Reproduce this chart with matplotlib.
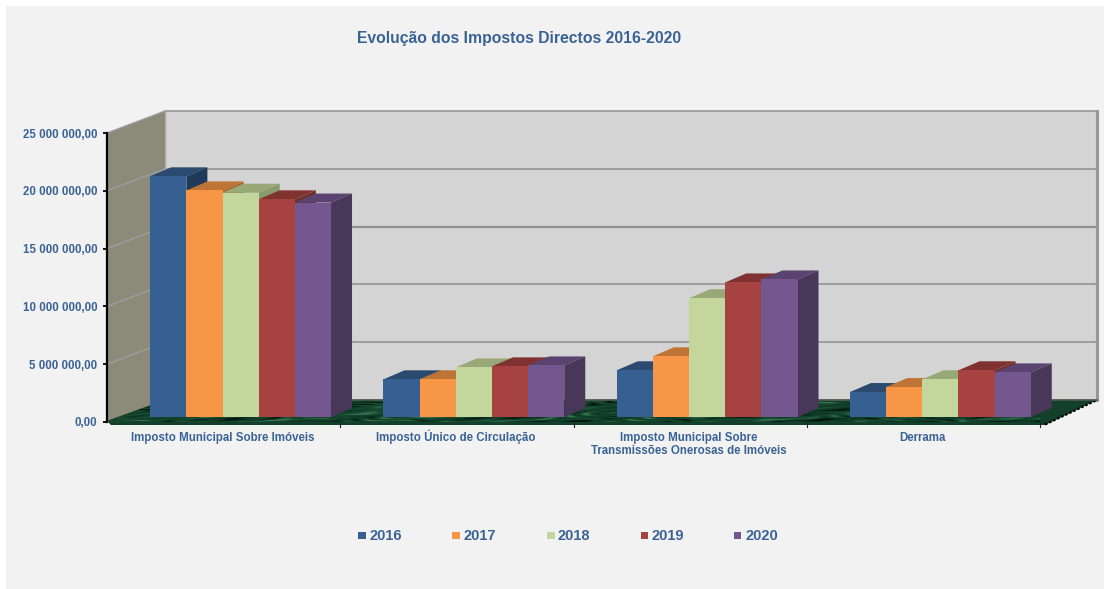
"""Evolucao dos Impostos Directos, fake 3D column chart."""

import matplotlib
import matplotlib.pyplot as plt
import numpy as np
from matplotlib.colors import LinearSegmentedColormap
from matplotlib.patches import Polygon
from matplotlib.transforms import Affine2D, IdentityTransform

# no GUI backend
matplotlib.use('Agg')

categories = ["Imposto Municipal Sobre Imóveis",
              "Imposto Único de Circulação",
              "Imposto Municipal Sobre\nTransmissões Onerosas de Imóveis",
              "Derrama"]
years = ["2016", "2017", "2018", "2019", "2020"]

v2016 = [20820000, 3260000, 4040000, 2160000]
v2017 = [19600000, 3260000, 5250000, 2590000]
v2018 = [19400000, 4290000, 10270000, 3260000]
v2019 = [18830000, 4380000, 11640000, 4040000]
v2020 = [18550000, 4460000, 11900000, 3860000]
series = [v2016, v2017, v2018, v2019, v2020]

y_ticks = [0, 5000000, 10000000, 15000000, 20000000, 25000000]

front_colors = ['#366092', '#f79646', '#c3d69b', '#a64340', '#74578f']
top_colors = ['#2a4a70', '#bd7435', '#98a877', '#7f322f', '#5a4370']
side_colors = ['#203a5a', '#a86a30', '#8a9a6a', '#70302d', '#483758']
TEXT_BLUE = '#3a6395'

W, H = 1104, 589
DEPTH = (58, 22)      # floor/wall depth in pixels
BAR_DEPTH = (21, 9)
BAR_SHIFT = (17, 5)   # bars stand a bit in from the front edge
BAR_W = 0.155


def to_px(x, y):
    return ax.transData.transform((x, y))


def face(points, color, zorder, edge='none', lw=0):
    ax.add_patch(Polygon(points, closed=True, facecolor=color, edgecolor=edge, linewidth=lw,
                         transform=IdentityTransform(), zorder=zorder, clip_on=False))


def px_line(xs, ys, color, lw, zorder=2, **kwargs):
    ax.plot(xs, ys, color=color, lw=lw, transform=IdentityTransform(), zorder=zorder,
            clip_on=False, **kwargs)


def py(y_from_top):
    return H - y_from_top


plt.rcParams['font.family'] = ['Liberation Sans', 'DejaVu Sans']
fig = plt.figure(figsize=(W / 100, H / 100), dpi=100, facecolor='white')

# panel behind everything
fig.patches.append(plt.Rectangle((6 / W, 0), 1 - 6 / W, 1 - 6 / H, transform=fig.transFigure,
                                 facecolor='#f2f2f2', edgecolor='none', zorder=-5))

# axes box = front plane of the chart, y=0 at 422 px, 25M at 133 px
ax = fig.add_axes([107 / W, py(422) / H, (1040 - 107) / W, (422 - 133) / H])
ax.set_xlim(0, 4)
ax.set_ylim(0, 25000000)
ax.patch.set_visible(False)
for name in ['top', 'right', 'bottom']:
    ax.spines[name].set_visible(False)
ax.spines['left'].set_linewidth(1.6)
ax.spines['left'].set_color('black')

x0, y0 = to_px(0, 0)
x1, y1 = to_px(4, 25000000)
dx, dy = DEPTH
back_right = 1097

# back wall
face([(x0 + dx, y0 + dy), (back_right, y0 + dy), (back_right, y1 + dy), (x0 + dx, y1 + dy)], '#d4d4d4', 1)
# left wall
face([(x0, y0), (x0 + dx, y0 + dy), (x0 + dx, y1 + dy), (x0, y1)], '#8c8a79', 1)

# gridlines on both walls
for t in y_ticks:
    _, yt = to_px(0, t)
    lw = 1.6 if t == 15000000 else 1.1
    px_line([x0 + dx, back_right], [yt + dy, yt + dy], '#8f8f8f', lw)
    if t > 0:
        px_line([x0, x0 + dx], [yt, yt + dy], '#9d9da3', 1)
px_line([back_right, back_right], [y0 + dy, y1 + dy], '#989898', 2.2)
px_line([x0 + dx, x0 + dx], [y0 + dy, y1 + dy], '#aaaaaa', 1)

# floor, dark green with a marble look
floor_pts = [(x0, y0 + 1), (x0 + 4, y0 - 3), (1045, y0 - 3), (back_right, y0 + dy), (x0 + dx, y0 + dy)]
floor = Polygon(floor_pts, closed=True, facecolor='#12402a', edgecolor='none',
                transform=IdentityTransform(), zorder=3, clip_on=False)
ax.add_patch(floor)
gx, gy = np.meshgrid(np.arange(0, W, 1.0), np.arange(0, 34, 1.0))
warp = 2.5 * np.sin(gx * 0.023 + gy * 0.41) + 1.5 * np.sin(gx * 0.071 - gy * 0.63)
mottle = np.sin(gx * 0.052 + warp) * np.sin(gy * 0.83 + 0.6 * warp) + 0.35 * np.sin(gx * 0.19 + 1.3 * warp)
marble = LinearSegmentedColormap.from_list('marble', ['#03130b', '#0f3a25', '#17492f', '#3a7556'])
img = ax.imshow(mottle, cmap=marble, extent=(0, W, y0 - 8, y0 + 26), origin='lower',
                transform=IdentityTransform(), aspect='auto', zorder=3.1, interpolation='bilinear')
img.set_clip_box(None)
img.set_clip_path(floor)
ax.set_xlim(0, 4)
ax.set_ylim(0, 25000000)
# black jagged-looking right edge of the floor
px_line([1045, back_right], [y0 - 2.5, y0 + dy], 'black', 1.6, zorder=3.2, ls=(0, (1.2, 0.8)))
px_line([x0 + dx, back_right], [y0 + dy, y0 + dy], '#55594f', 1.2, zorder=3.2)

# bars: front face goes through ax.bar, depth faces are added in pixels
bar_tf = ax.transData + Affine2D().translate(*BAR_SHIFT)
bdx, bdy = BAR_DEPTH
for s, vals in enumerate(series):
    for c, v in enumerate(vals):
        left = c + 0.5 + (s - 2.5) * BAR_W
        z = 4 + s * 0.1
        ax.bar(left, v, BAR_W, align='edge', color=front_colors[s], transform=bar_tf, zorder=z + 0.02)
        xa, yb = bar_tf.transform((left, 0))
        xb, yt = bar_tf.transform((left + BAR_W, v))
        face([(xa, yt), (xb, yt), (xb + bdx, yt + bdy), (xa + bdx, yt + bdy)], top_colors[s], z)
        face([(xb, yb), (xb + bdx, yb + bdy), (xb + bdx, yt + bdy), (xb, yt)], side_colors[s], z + 0.01)

# axes ticks and labels
ax.set_yticks(y_ticks)
ax.set_yticklabels([f"{t:,.2f}".replace(",", " ").replace(".", ",") for t in y_ticks],
                   fontsize=8.3, fontweight='bold', color=TEXT_BLUE)
ax.tick_params(axis='y', length=3, width=1.3, pad=4, color='black')
ax.set_xticks([])
# one text per line so all first lines share a baseline, accent or not
for c, label in enumerate(categories):
    for n, line in enumerate(label.split("\n")):
        ax.annotate(line, (c + 0.5, 0), xytext=(-1, -19 - 13 * n), textcoords='offset pixels',
                    ha='center', va='baseline', fontsize=8.3, fontweight='bold',
                    color=TEXT_BLUE, annotation_clip=False)
for pos in [1, 2, 3, 4]:
    ax.plot([pos, pos], [0, -400000], color='#222222', lw=0.8, clip_on=False, zorder=6)

fig.text(519 / W, py(39) / H, "Evolução dos Impostos Directos 2016-2020", ha='center', va='center',
         fontsize=11.3, fontweight='bold', color=TEXT_BLUE)

# legend keys placed by hand to follow the wide spacing of the original
legend_x = [358, 452, 547, 641, 734]
for name, color, lx in zip(years, front_colors, legend_x):
    fig.patches.append(plt.Rectangle((lx / W, py(539) / H), 7.5 / W, 7.5 / H, transform=fig.transFigure,
                                     facecolor=color, edgecolor='none'))
    fig.text((lx + 11) / W, py(536) / H, name, ha='left', va='center', fontsize=10.5,
             fontweight='bold', color=TEXT_BLUE)

fig.savefig('out.png', dpi=100, facecolor=fig.get_facecolor())
plt.close(fig)
